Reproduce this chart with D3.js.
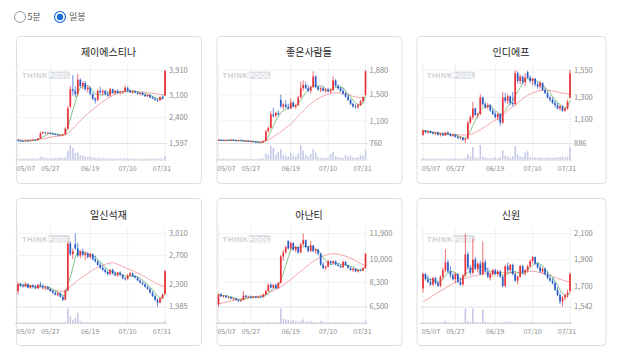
<!DOCTYPE html>
<html><head><meta charset="utf-8">
<script src="https://cdn.jsdelivr.net/npm/d3@7"></script>
<style>body{margin:0;background:#fff}svg{display:block}</style>
</head><body><svg id="c" width="618" height="355"></svg>
<script>
const dates=["05/07","05/08","05/09","05/10","05/13","05/14","05/16","05/17","05/20","05/21","05/22","05/23","05/24","05/27","05/28","05/29","05/30","05/31",
"06/03","06/04","06/05","06/07","06/10","06/11","06/12","06/13","06/14","06/17","06/18","06/19","06/20","06/21","06/24","06/25","06/26","06/27","06/28",
"07/01","07/02","07/03","07/04","07/05","07/08","07/09","07/10","07/11","07/12","07/15","07/16","07/17","07/18","07/19","07/22","07/23","07/24","07/25","07/26","07/29","07/30","07/31"];
const tickDates=["05/07","05/27","06/19","07/10","07/31"];
const names=["제이에스티나","좋은사람들","인디에프","일신석재","아난티","신원"];

// [open, high, low, close]
const jstOHLC=[[1690,1720,1650,1670],[1670,1690,1640,1660],[1660,1680,1630,1650],[1650,1680,1640,1670],[1670,1690,1650,1660],[1660,1700,1650,1690],[1690,1720,1670,1700],[1700,1720,1680,1690],[1690,1760,1680,1740],[1740,1960,1730,1900],
[1900,1980,1880,1930],[1930,1960,1890,1910],[1910,1950,1880,1920],[1920,1940,1870,1890],[1890,1920,1850,1880],[1880,1900,1840,1860],[1860,1880,1820,1840],[1840,1870,1810,1850],[1850,1880,1820,1870],[1870,2100,1860,2050],
[2050,2780,2040,2700],[2750,3400,2700,3300],[3300,3750,3100,3250],[3250,3400,3050,3150],[3150,3780,3100,3600],[3600,3650,3350,3400],[3400,3550,3300,3500],[3500,3560,3250,3300],[3300,3420,3200,3350],[3350,3380,3100,3150],
[3150,3200,2950,3000],[3000,3050,2850,2950],[2950,3300,2940,3250],[3250,3380,3150,3200],[3200,3300,3100,3250],[3250,3280,3100,3150],[3150,3250,3050,3100],[3100,3350,3080,3300],[3300,3320,3150,3200],[3200,3280,3120,3250],
[3250,3300,3150,3180],[3180,3230,3120,3200],[3200,3250,3150,3220],[3220,3420,3200,3350],[3350,3380,3200,3250],[3250,3300,3180,3200],[3200,3260,3150,3230],[3230,3260,3170,3190],[3190,3230,3130,3150],[3150,3200,3100,3180],
[3180,3220,3100,3120],[3120,3160,3060,3080],[3080,3150,3050,3120],[3120,3140,3020,3040],[3040,3080,2980,3000],[3000,3050,2940,2960],[2960,3000,2900,2950],[2950,3080,2930,3050],[3050,3100,2980,3000],[3110,3910,3090,3880]];
const jstVol=[6,5,7,5,6,8,7,6,9,20,14,10,9,8,10,9,12,15,10,18,60,100,80,45,50,30,25,20,15,20,15,12,14,10,9,8,7,9,8,7,6,7,6,9,8,6,5,6,5,6,5,6,5,6,5,7,6,8,7,25];
const jstMA=[1700,1700,1695,1690,1690,1690,1690,1695,1700,1710,1730,1750,1765,1780,1795,1805,1815,1825,1835,1855,1900,1980,2060,2130,2220,2300,2380,2460,2530,2600,2660,2720,2790,2850,2910,2960,3010,3060,3100,3150,3200,3220,3230,3240,3245,3240,3235,3230,3225,3215,3210,3200,3190,3180,3170,3160,3150,3140,3130,3130];
const jstTicks=[1597,2400,3100,3910];

const gpOHLC=[[800,815,790,805],[805,820,795,800],[800,810,790,795],[795,810,785,805],[805,815,795,800],[800,815,790,810],[810,820,795,800],[800,810,785,790],[790,805,780,800],[800,815,790,795],
[795,805,780,785],[785,800,775,790],[790,800,775,780],[780,795,770,785],[785,790,770,775],[775,785,765,770],[770,780,760,765],[765,775,760,770],[770,800,765,790],[790,960,785,940],
[940,1020,920,990],[990,1250,980,1200],[1200,1300,1150,1180],[1180,1240,1150,1220],[1220,1260,1180,1200],[1420,1500,1300,1320],[1320,1380,1270,1350],[1350,1420,1300,1310],[1310,1360,1270,1290],[1290,1450,1280,1380],
[1380,1400,1300,1320],[1320,1360,1280,1340],[1340,1480,1330,1460],[1460,1700,1450,1600],[1600,1720,1560,1650],[1650,1700,1580,1600],[1600,1650,1540,1560],[1560,1640,1520,1620],[1620,1860,1600,1780],[1780,1800,1600,1620],
[1620,1640,1560,1580],[1580,1620,1540,1600],[1600,1620,1550,1560],[1560,1600,1530,1580],[1580,1600,1540,1550],[1550,1600,1520,1570],[1570,1780,1560,1720],[1720,1740,1620,1640],[1640,1660,1580,1600],[1600,1630,1540,1560],
[1560,1600,1500,1520],[1520,1550,1450,1470],[1470,1500,1400,1420],[1420,1440,1340,1360],[1360,1380,1300,1320],[1320,1350,1290,1310],[1310,1360,1290,1340],[1340,1420,1330,1400],[1400,1480,1380,1460],[1500,1880,1480,1860]];
const gpVol=[5,4,6,5,4,5,6,4,5,4,5,6,4,5,3,4,5,6,8,40,30,90,75,30,50,70,30,25,20,45,25,20,40,95,60,30,20,35,70,45,15,10,12,10,15,35,50,20,15,12,10,30,20,25,15,10,15,30,25,60];
const gpMA=[805,804,803,802,801,800,800,799,798,797,796,795,794,792,790,788,785,780,782,795,810,830,855,880,905,930,960,990,1020,1050,1090,1130,1170,1210,1250,1290,1330,1360,1390,1420,1440,1460,1480,1495,1510,1520,1530,1530,1530,1525,1520,1510,1500,1490,1475,1465,1460,1455,1455,1460];
const gpTicks=[760,1100,1500,1880];

const idfOHLC=[[960,1010,950,1000],[1000,1005,975,985],[985,1000,970,995],[995,1000,975,980],[980,990,965,970],[970,985,960,980],[980,990,955,960],[960,975,945,970],[970,980,950,955],[955,985,950,980],
[980,990,960,965],[965,975,945,950],[950,965,940,960],[960,970,935,940],[940,955,925,930],[930,945,915,935],[935,940,905,915],[915,930,886,925],[925,1090,920,1070],[1070,1140,1060,1120],
[1120,1260,1100,1200],[1200,1210,1130,1140],[1140,1160,1110,1150],[1150,1330,1140,1300],[1300,1310,1220,1240],[1240,1260,1200,1210],[1210,1250,1190,1230],[1230,1240,1170,1180],[1180,1200,1140,1150],[1150,1170,1110,1120],
[1120,1160,1090,1150],[1150,1160,1040,1070],[1070,1350,1060,1300],[1300,1340,1250,1270],[1270,1330,1240,1310],[1310,1320,1230,1250],[1250,1350,1220,1240],[1240,1550,1230,1520],[1520,1540,1430,1450],[1450,1510,1420,1490],
[1490,1500,1420,1440],[1440,1520,1400,1480],[1530,1545,1470,1480],[1480,1500,1430,1450],[1450,1480,1410,1470],[1470,1480,1400,1420],[1420,1440,1380,1400],[1400,1450,1380,1430],[1430,1440,1360,1370],[1370,1390,1330,1340],
[1340,1360,1290,1300],[1300,1320,1260,1280],[1280,1300,1240,1250],[1250,1270,1210,1230],[1230,1250,1190,1200],[1200,1230,1180,1220],[1220,1230,1170,1180],[1180,1210,1170,1200],[1200,1280,1190,1260],[1300,1550,1290,1520]];
const idfVol=[6,5,4,5,6,4,5,4,6,5,4,5,6,4,5,6,5,8,25,15,60,10,8,70,15,10,8,6,8,10,6,12,45,20,15,10,15,65,25,15,12,35,40,12,10,9,8,10,9,8,10,9,8,9,10,12,14,10,15,60];
const idfMA=[990,988,986,984,982,980,978,976,974,972,970,968,966,964,962,960,958,958,960,962,970,985,995,1005,1020,1035,1050,1065,1080,1095,1105,1120,1140,1160,1180,1200,1215,1230,1250,1270,1290,1305,1320,1330,1340,1350,1358,1363,1366,1367,1366,1363,1360,1356,1350,1345,1340,1336,1333,1330];
const idfTicks=[886,1100,1300,1550];

const ilsOHLC=[[2200,2330,2150,2300],[2300,2320,2260,2280],[2280,2310,2250,2270],[2270,2330,2260,2300],[2300,2310,2240,2250],[2250,2290,2230,2280],[2280,2300,2240,2260],[2260,2290,2230,2240],[2240,2300,2230,2290],[2290,2330,2260,2270],
[2270,2300,2240,2250],[2250,2280,2220,2260],[2260,2270,2220,2230],[2230,2250,2190,2200],[2200,2220,2160,2180],[2180,2200,2140,2150],[2150,2190,2130,2170],[2170,2180,2110,2120],[2120,2140,2060,2080],[2080,2230,2070,2210],
[2210,2900,2200,2870],[2870,2900,2700,2720],[2720,2800,2650,2760],[2860,3010,2780,2800],[2800,2880,2680,2700],[2700,2780,2660,2760],[2760,2800,2690,2710],[2710,2760,2640,2730],[2730,2750,2660,2680],[2680,2740,2660,2720],
[2720,2730,2630,2650],[2650,2700,2600,2620],[2620,2640,2560,2570],[2570,2600,2510,2530],[2530,2560,2480,2500],[2500,2530,2450,2470],[2470,2490,2420,2440],[2440,2510,2430,2500],[2500,2520,2430,2450],[2450,2480,2410,2420],
[2420,2470,2400,2460],[2460,2480,2410,2430],[2430,2440,2370,2380],[2380,2400,2350,2370],[2370,2440,2360,2420],[2420,2470,2410,2450],[2450,2460,2400,2410],[2410,2430,2380,2390],[2390,2400,2340,2350],[2350,2370,2310,2320],
[2320,2340,2280,2300],[2300,2310,2250,2260],[2260,2280,2220,2230],[2230,2250,2170,2180],[2180,2200,2120,2130],[2130,2150,2060,2080],[2080,2100,1985,2040],[2040,2110,2030,2100],[2100,2170,2090,2150],[2160,2500,2150,2480]];
const ilsVol=[5,4,3,4,5,3,4,3,4,5,4,3,4,3,4,5,4,3,5,8,100,45,20,35,70,15,8,6,5,6,5,4,6,5,4,5,4,6,5,4,3,4,5,4,6,5,4,3,4,5,4,3,4,5,4,6,8,5,6,15];
const ilsMA=[2280,2278,2275,2272,2270,2268,2265,2262,2258,2250,2240,2232,2225,2220,2215,2210,2205,2200,2198,2198,2230,2260,2290,2320,2350,2375,2400,2425,2450,2475,2495,2515,2535,2550,2565,2578,2588,2596,2600,2590,2575,2560,2545,2530,2515,2500,2485,2470,2455,2440,2420,2400,2380,2360,2340,2320,2300,2285,2270,2260];
const ilsTicks=[1985,2300,2700,3010];

const antOHLC=[[6650,7450,6500,7400],[7400,7500,7200,7250],[7250,7350,7150,7300],[7300,7350,7150,7180],[7180,7250,7100,7200],[7200,7250,7050,7080],[7080,7150,6980,7100],[7100,7120,6950,6980],[6980,7050,6850,6900],[6900,7000,6850,6980],
[6980,7650,6950,7300],[7300,7350,7150,7200],[7200,7300,7150,7250],[7250,7300,7100,7150],[7150,7250,7100,7220],[7220,7280,7120,7150],[7150,7250,7100,7230],[7230,7300,7150,7200],[7200,7450,7180,7400],[7400,7750,7380,7650],
[7650,8200,7600,8100],[8100,8250,7850,7900],[7900,8150,7850,8100],[8100,8200,7800,7850],[7850,8300,7800,8250],[8250,10300,8200,10200],[10200,10700,9900,10500],[10500,11000,10400,10900],[11350,11400,10700,10800],[10800,11300,10700,11200],
[11200,11250,10600,10700],[10700,11000,10500,10900],[10900,10950,10400,10500],[10500,11200,10450,11100],[11100,11900,11000,11400],[11400,11450,10800,10900],[10900,11000,10500,10600],[10600,11350,10550,11000],[11000,11050,10500,10600],[10600,10800,10400,10700],
[10700,10750,10300,10400],[10400,10450,9500,9600],[9600,9800,9250,9350],[9350,9500,9200,9450],[9450,9950,9400,9850],[9850,9900,9600,9700],[9700,9900,9650,9850],[9850,9900,9550,9600],[9600,9700,9450,9500],[9500,9600,9350,9400],
[9400,9900,9350,9800],[9800,9850,9500,9550],[9550,9600,9300,9350],[9350,9450,9150,9200],[9200,9350,9050,9300],[9300,9350,9050,9100],[9100,9250,9000,9200],[9200,9300,9100,9150],[9150,9400,9100,9350],[9350,10450,9300,10400]];
const antVol=[8,4,3,4,3,4,3,4,3,4,10,4,3,4,3,4,3,4,5,6,8,5,4,5,8,100,30,25,20,15,18,12,10,15,25,12,10,15,8,6,5,15,8,5,6,5,4,5,4,3,6,5,4,3,4,3,4,3,5,18];
const antMA=[6700,6740,6780,6820,6860,6900,6940,6980,7020,7060,7090,7120,7150,7180,7210,7240,7270,7300,7340,7400,7480,7570,7660,7760,7860,7970,8090,8220,8360,8500,8650,8800,8950,9100,9250,9400,9550,9700,9830,9950,10060,10150,10230,10300,10350,10390,10410,10400,10370,10330,10280,10220,10150,10070,9980,9880,9780,9680,9590,9510];
const antTicks=[6500,8300,10000,11900];

const swOHLC=[[1680,1800,1650,1790],[1790,1800,1740,1750],[1750,1780,1720,1730],[1730,1760,1700,1710],[1710,1770,1700,1760],[1760,1770,1710,1720],[1720,1740,1690,1700],[1700,1780,1690,1770],[1770,1840,1750,1820],[1820,1980,1800,1880],
[1880,1900,1800,1810],[1810,1850,1760,1780],[1780,1800,1740,1750],[1750,1800,1720,1790],[1790,1800,1720,1730],[1730,1760,1700,1710],[1710,1790,1700,1780],[1780,2100,1770,1940],[1940,1960,1820,1840],[1840,1860,1780,1800],
[1800,2060,1790,1900],[1900,1920,1820,1830],[1830,1880,1800,1870],[1870,1890,1780,1790],[1790,2040,1780,1880],[1880,1900,1800,1810],[1810,1840,1760,1770],[1760,1800,1740,1790],[1790,1830,1770,1820],[1820,1830,1780,1790],
[1790,1820,1770,1810],[1810,1820,1760,1770],[1770,1780,1690,1700],[1700,1860,1690,1850],[1850,1880,1800,1820],[1820,1870,1800,1860],[1860,1870,1780,1790],[1790,1800,1730,1740],[1740,1780,1710,1770],[1770,1860,1760,1850],
[1850,1860,1790,1800],[1800,1830,1780,1820],[1820,1860,1800,1850],[1850,1900,1840,1890],[1890,1930,1870,1920],[1920,1925,1860,1870],[1870,1880,1830,1840],[1840,1860,1800,1810],[1810,1840,1790,1830],[1830,1840,1780,1790],
[1790,1810,1750,1760],[1760,1780,1730,1740],[1740,1760,1710,1720],[1720,1730,1660,1670],[1670,1690,1620,1630],[1630,1650,1560,1580],[1580,1620,1542,1610],[1610,1640,1590,1630],[1630,1670,1610,1650],[1660,1800,1650,1790]];
const swVol=[5,4,3,4,3,4,3,5,6,15,6,4,3,4,3,4,6,100,10,8,100,8,6,5,95,8,5,4,3,4,3,4,6,10,9,10,5,4,3,5,4,3,4,6,8,5,4,3,4,3,4,3,4,5,4,6,5,4,5,8];
const swMA=[1580,1590,1600,1612,1625,1638,1650,1660,1670,1682,1695,1707,1718,1728,1737,1745,1752,1758,1764,1769,1774,1778,1782,1786,1789,1792,1794,1796,1798,1799,1800,1800,1800,1800,1800,1800,1801,1802,1803,1805,1807,1809,1811,1812,1812,1810,1806,1801,1796,1790,1784,1778,1771,1764,1757,1750,1744,1738,1733,1729];
const swTicks=[1542,1700,1900,2100];

const series=[
 {ohlc:jstOHLC,vol:jstVol,ma:jstMA,ticks:jstTicks},
 {ohlc:gpOHLC,vol:gpVol,ma:gpMA,ticks:gpTicks},
 {ohlc:idfOHLC,vol:idfVol,ma:idfMA,ticks:idfTicks},
 {ohlc:ilsOHLC,vol:ilsVol,ma:ilsMA,ticks:ilsTicks},
 {ohlc:antOHLC,vol:antVol,ma:antMA,ticks:antTicks},
 {ohlc:swOHLC,vol:swVol,ma:swMA,ticks:swTicks}
];

const FONT='"Noto Sans CJK KR","Noto Sans",sans-serif';
const svg=d3.select("#c");
svg.append("rect").attr("width",618).attr("height",355).attr("fill","#fff");

// radio buttons
const rg=svg.append("g").attr("font-family",FONT).attr("font-size",9).attr("fill","#555");
rg.append("circle").attr("cx",20).attr("cy",17).attr("r",5.5).attr("fill","#fff").attr("stroke","#9a9a9a").attr("stroke-width",1);
rg.append("text").attr("x",27.5).attr("y",20).text("5분");
rg.append("circle").attr("cx",60).attr("cy",17).attr("r",5.5).attr("fill","#fff").attr("stroke","#1a6fd4").attr("stroke-width",1.2);
rg.append("circle").attr("cx",60).attr("cy",17).attr("r",3.2).attr("fill","#1a6fd4");
rg.append("text").attr("x",69).attr("y",20).text("일봉");

const cols=[{x:16,w:185,off:2},{x:216.5,w:185,off:2},{x:416.5,w:189,off:6.5}];
const rows=[{y:36,dy:0},{y:198,dy:163.5}];

series.forEach((s,k)=>{
  const col=cols[k%3], row=rows[Math.floor(k/3)];
  const g=svg.append("g");
  g.append("rect").attr("x",col.x+0.5).attr("y",row.y+0.5).attr("width",col.w).attr("height",147)
    .attr("rx",4).attr("fill","#fff").attr("stroke","#dedede");
  g.append("text").attr("x",col.x+col.w/2).attr("y",55.5+row.dy).attr("text-anchor","middle")
    .attr("font-family",FONT).attr("font-size",10).attr("fill","#222").text(names[k]);

  const L=col.x+col.off, R=L+147;
  const yTop=70+row.dy, yBot=143+row.dy, vBase=159.5+row.dy, vTop=145+row.dy;
  const x=d3.scalePoint().domain(dates).range([L,R]);
  const y=d3.scaleLinear().domain([s.ticks[0],s.ticks[3]]).range([yBot,yTop]);
  const v=d3.scaleLinear().domain([0,d3.max(s.vol)]).range([vBase,vTop]);

  // grid
  g.selectAll(".vg").data(tickDates).join("line").attr("x1",d=>x(d)).attr("x2",d=>x(d))
    .attr("y1",yTop-6).attr("y2",vBase).attr("stroke","#f0f0f0");
  g.selectAll(".hg").data(s.ticks.slice(1)).join("line").attr("x1",L-3).attr("x2",R+2)
    .attr("y1",d=>y(d)).attr("y2",d=>y(d)).attr("stroke","#f2f2f2");
  g.append("line").attr("x1",L-3).attr("x2",R+2).attr("y1",yBot+0.5).attr("y2",yBot+0.5).attr("stroke","#e2e2e2");
  g.append("line").attr("x1",L-3).attr("x2",R+2).attr("y1",vBase+0.5).attr("y2",vBase+0.5).attr("stroke","#d6d6d6");

  // watermark
  const wm=g.append("g").attr("transform",`translate(${col.x+6+col.off-2},${78+row.dy})`);
  wm.append("text").attr("x",0).attr("y",0).attr("font-family","Arial,'Liberation Sans',sans-serif")
    .attr("font-weight","bold").attr("font-size",7.5).attr("fill","#cfcfcf").attr("letter-spacing",0.6).text("THINK");
  wm.append("rect").attr("x",26).attr("y",-6.5).attr("width",22).attr("height",7.5).attr("rx",1.5).attr("fill","#dde0e4");
  wm.append("text").attr("x",37).attr("y",0).attr("text-anchor","middle").attr("font-family","Arial,'Liberation Sans',sans-serif")
    .attr("font-weight","bold").attr("font-size",7).attr("fill","#fff").attr("letter-spacing",0.5).text("POOL");

  // volume
  g.selectAll(".vb").data(s.vol).join("rect").attr("x",(d,i)=>x(dates[i])-0.75).attr("width",1.5)
    .attr("y",d=>v(d)).attr("height",d=>vBase-v(d)).attr("fill","#c3c6e6");

  // moving averages
  const closes=s.ohlc.map(d=>d[3]);
  const ma5=closes.map((c,i)=>d3.mean(closes.slice(Math.max(0,i-4),i+1)));
  const line=d3.line().x((d,i)=>x(dates[i])).y(d=>y(d));
  g.append("path").attr("d",line(s.ma)).attr("fill","none").attr("stroke","#f3a5a8").attr("stroke-width",1);
  g.append("path").attr("d",line(ma5)).attr("fill","none").attr("stroke","#62b866").attr("stroke-width",0.8);

  // candles
  const col2=d=>d[3]>=d[0]?"#e8333a":"#2b5dc9";
  g.selectAll(".wk").data(s.ohlc).join("line").attr("x1",(d,i)=>x(dates[i])).attr("x2",(d,i)=>x(dates[i]))
    .attr("y1",d=>y(d[1])).attr("y2",d=>y(d[2])).attr("stroke",col2).attr("stroke-width",0.7);
  g.selectAll(".bd").data(s.ohlc).join("rect").attr("x",(d,i)=>x(dates[i])-0.85).attr("width",1.7)
    .attr("y",d=>y(Math.max(d[0],d[3]))).attr("height",d=>Math.max(0.8,Math.abs(y(d[0])-y(d[3]))))
    .attr("fill",col2);

  // y labels
  g.selectAll(".yl").data(s.ticks).join("text").attr("x",R+4).attr("y",d=>y(d)+2.7)
    .attr("font-family",FONT).attr("font-size",7.5).attr("fill","#8a8a8a").text(d=>d3.format(",")(d));
  // x labels
  g.selectAll(".xl").data(tickDates).join("text")
    .attr("x",d=>Math.min(Math.max(x(d),L+8),R-3)).attr("y",170.5+row.dy).attr("text-anchor","middle")
    .attr("font-family",FONT).attr("font-size",7).attr("fill","#8a8a8a").text(d=>d);
});
</script>
</body></html>
